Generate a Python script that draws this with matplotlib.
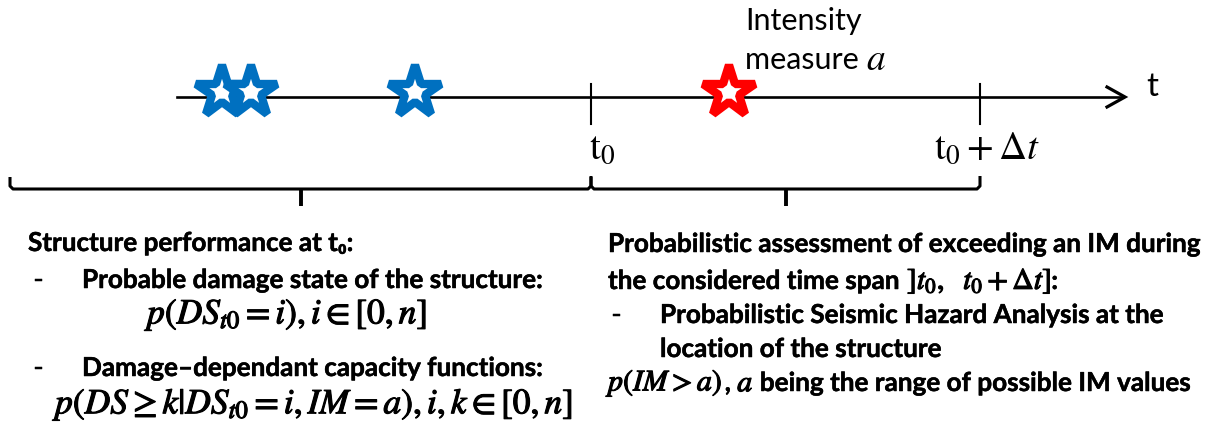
import matplotlib
matplotlib.use("Agg")
import matplotlib.pyplot as plt
import matplotlib.patheffects as pe

plt.rcParams['mathtext.fontset'] = 'stix'

# ---- data (diagram coordinates, pixel-like units) ----
past_events_t = [222, 251, 415]      # blue stars (previous earthquakes)
future_event_t = [729]               # red star (event with intensity a)
tick_t = [591, 980]                  # t0 and t0 + dt
tick_labels = [r"$\mathrm{t}_0$", r"$\mathrm{t}_0+\Delta t$"]
axis_start, axis_end = 177, 1125
brace_spans = [(10, 591), (591, 980)]

left_lines = [
    "Structure performance at t\u2080:",
    "Probable damage state of the structure:",
    r"$p(DS_{t0}=i),i\in[0,n]$",
    "Damage\u2013dependant capacity functions:",
    r"$p(DS\geq k|DS_{t0}=i,IM=a),i,k\in[0,n]$",
]
right_lines = [
    "Probabilistic assessment of exceeding an IM during",
    "the considered time span ",
    r"$]t_0,\ \ t_0+\mathit{\Delta}t]$",
    "Probabilistic Seismic Hazard Analysis at the",
    "location of the structure",
]

W, H = 1227, 439
fig = plt.figure(figsize=(W / 100, H / 100), dpi=100)
ax = fig.add_axes([0, 0, 1, 1])
ax.set_xlim(0, W)
ax.set_ylim(H, 0)
ax.axis('off')

FS = 18.8
HEAVY = [pe.withStroke(linewidth=0.8, foreground='black')]
SEMI = [pe.withStroke(linewidth=0.35, foreground='black')]
TXT = dict(family=['Lato', 'DejaVu Sans'], fontsize=FS, color='black')
BOLD = dict(TXT, fontweight='bold', path_effects=SEMI)
MATH = dict(fontsize=25.5, color='black', path_effects=HEAVY)
MATH_R = dict(MATH, fontsize=21.5)

renderer = fig.canvas.get_renderer()


def chain(x, y, pieces):
    for s, kw in pieces:
        t = ax.text(x, y, s, ha='left', va='center', **kw)
        bb = t.get_window_extent(renderer=renderer)
        inv = ax.transData.inverted()
        (xa, _), (xb, _) = inv.transform([[bb.x0, bb.y0], [bb.x1, bb.y0]])
        x += xb - xa
    return x


y_axis = 98
lw = 1.9
# timeline
ax.plot([axis_start, axis_end - 2], [y_axis, y_axis], color='black', lw=lw, zorder=1)
ax.plot([axis_end - 18, axis_end, axis_end - 18], [y_axis - 10, y_axis, y_axis + 10],
        color='black', lw=lw + 0.4, solid_joinstyle='miter', zorder=1)
ax.text(1146, y_axis - 11, "t", ha='left', va='center', family='Lato', fontsize=24)

# ticks and tick labels
for tx, lab, dx in zip(tick_t, tick_labels, [-2, -46]):
    ax.plot([tx, tx], [85, 125], color='black', lw=1.5, zorder=1)
    ax.text(tx + dx, 148, lab, ha='left', va='center', fontsize=28)

# stars
ax.plot(past_events_t, [93] * len(past_events_t), linestyle='none', marker='*',
        ms=39, mfc='white', mec='#0070C0', mew=6, zorder=3)
ax.plot(future_event_t, [93] * len(future_event_t), linestyle='none', marker='*',
        ms=39, mfc='white', mec='#FF0000', mew=6, zorder=3)

ax.text(745, 21, "Intensity", ha='left', va='center', **dict(TXT, fontsize=22))
chain(745, 60, [("measure ", dict(TXT, fontsize=22)), (r"$a$", dict(fontsize=27))])

# braces
yb = 190
for (x0, x1) in brace_spans:
    xm = (x0 + x1) / 2
    ax.plot([x0, x0, x0 + 3, x1 - 3, x1, x1], [178, yb - 3, yb, yb, yb - 3, 177],
            color='black', lw=2.2, solid_capstyle='butt', zorder=1)
    ax.plot([xm, xm], [yb, 207], color='black', lw=2.8, solid_capstyle='butt')

# left block
ax.text(28, 244, left_lines[0], ha='left', va='center', **BOLD)
ax.text(34, 281, "-", ha='left', va='center', **BOLD)
ax.text(82, 281, left_lines[1], ha='left', va='center', **BOLD)
ax.text(147, 316, left_lines[2], ha='left', va='center', **MATH)
ax.text(34, 369, "-", ha='left', va='center', **BOLD)
ax.text(82, 369, left_lines[3], ha='left', va='center', **BOLD)
ax.text(55, 405, left_lines[4], ha='left', va='center', **MATH)

# right block
ax.text(608, 245, right_lines[0], ha='left', va='center', **BOLD)
chain(608, 282, [(right_lines[1], BOLD), (right_lines[2], MATH_R), (":", BOLD)])
ax.text(612, 316, "-", ha='left', va='center', **BOLD)
ax.text(660, 316, right_lines[3], ha='left', va='center', **BOLD)
ax.text(660, 350, right_lines[4], ha='left', va='center', **BOLD)
chain(608, 384, [(r"$p(IM>a)$", MATH_R), (", ", BOLD), (r"$a$", MATH_R),
                 (" being the range of possible IM values", BOLD)])

fig.savefig("out.png", dpi=100)
